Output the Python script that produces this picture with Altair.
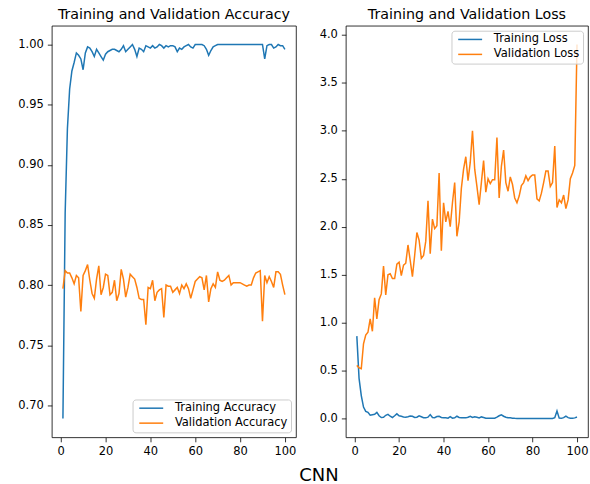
import altair as alt
import pandas as pd

epochs = list(range(1, 101))

train_acc = [
    0.689, 0.860, 0.930, 0.963, 0.978, 0.985, 0.993, 0.991, 0.988, 0.979,
    0.993, 0.998, 0.997, 0.994, 0.990, 0.996, 0.993, 0.990, 0.987, 0.992,
    0.994, 0.995, 0.996, 0.996, 0.995, 0.994, 0.996, 0.999, 0.994, 0.996,
    0.998, 1.000, 0.996, 0.990, 0.997, 0.996, 0.994, 0.999, 0.998, 0.997,
    0.999, 0.997, 0.998, 1.000, 0.999, 0.997, 0.999, 0.998, 0.999, 0.999,
    0.998, 0.994, 0.997, 0.996, 0.998, 0.999, 1.000, 0.998, 0.997, 1.000,
    1.000, 1.000, 1.000, 0.999, 0.996, 0.991, 0.995, 0.998, 0.999, 1.000,
    1.000, 1.000, 1.000, 1.000, 1.000, 1.000, 1.000, 1.000, 1.000, 1.000,
    1.000, 1.000, 1.000, 1.000, 1.000, 1.000, 1.000, 1.000, 1.000, 1.000,
    0.988, 0.999, 1.000, 1.000, 0.997, 0.998, 1.000, 0.999, 0.999, 0.996,
]

val_acc = [
    0.797, 0.812, 0.810, 0.810, 0.806, 0.801, 0.808, 0.806, 0.778, 0.808,
    0.812, 0.817, 0.804, 0.793, 0.789, 0.805, 0.816, 0.792, 0.798, 0.809,
    0.808, 0.792, 0.794, 0.804, 0.787, 0.793, 0.813, 0.805, 0.790, 0.798,
    0.809, 0.807, 0.805, 0.798, 0.789, 0.788, 0.788, 0.767, 0.798, 0.797,
    0.804, 0.787, 0.794, 0.796, 0.797, 0.773, 0.800, 0.799, 0.799, 0.794,
    0.796, 0.798, 0.793, 0.800, 0.797, 0.801, 0.797, 0.789, 0.796, 0.803,
    0.805, 0.807, 0.806, 0.796, 0.808, 0.786, 0.797, 0.801, 0.798, 0.811,
    0.804, 0.803, 0.804, 0.806, 0.808, 0.800, 0.802, 0.802, 0.802, 0.802,
    0.801, 0.800, 0.799, 0.800, 0.800, 0.806, 0.810, 0.811, 0.812, 0.770,
    0.808, 0.802, 0.807, 0.803, 0.798, 0.811, 0.811, 0.809, 0.800, 0.792,
]

train_loss = [
    0.860, 0.420, 0.240, 0.120, 0.075, 0.065, 0.035, 0.040, 0.045, 0.065,
    0.030, 0.012, 0.015, 0.035, 0.045, 0.025, 0.012, 0.030, 0.050, 0.030,
    0.025, 0.018, 0.015, 0.020, 0.028, 0.025, 0.012, 0.015, 0.030, 0.020,
    0.010, 0.008, 0.015, 0.042, 0.012, 0.010, 0.022, 0.025, 0.012, 0.010,
    0.008, 0.005, 0.020, 0.005, 0.008, 0.025, 0.012, 0.010, 0.010, 0.008,
    0.015, 0.025, 0.012, 0.020, 0.015, 0.008, 0.018, 0.012, 0.005, 0.005,
    0.003, 0.003, 0.005, 0.015, 0.030, 0.040, 0.025, 0.015, 0.010, 0.008,
    0.005, 0.003, 0.002, 0.002, 0.002, 0.002, 0.001, 0.001, 0.001, 0.001,
    0.001, 0.001, 0.001, 0.001, 0.001, 0.001, 0.001, 0.001, 0.002, 0.010,
    0.080, 0.005, 0.003, 0.010, 0.025, 0.010, 0.005, 0.003, 0.008, 0.017,
]

val_loss = [
    0.555, 0.530, 0.520, 0.780, 0.870, 0.900, 1.040, 0.910, 1.260, 1.040,
    1.240, 1.300, 1.590, 1.290, 1.500, 1.510, 1.460, 1.460, 1.610, 1.630,
    1.490, 1.600, 1.620, 1.810, 1.650, 1.480, 1.700, 1.940, 1.860, 1.670,
    1.700, 1.850, 2.270, 1.720, 2.080, 1.980, 2.010, 2.560, 1.750, 2.250,
    2.050, 2.160, 2.000, 2.250, 2.460, 1.900, 2.050, 2.400, 2.600, 2.730,
    2.480, 2.670, 3.000, 2.600, 2.420, 2.230, 2.460, 2.690, 2.360, 2.500,
    2.450, 2.490, 2.490, 2.930, 2.300, 2.630, 2.800, 2.460, 2.370, 2.520,
    2.440, 2.300, 2.250, 2.320, 2.430, 2.460, 2.530, 2.480, 2.520, 2.540,
    2.540, 2.290, 2.270, 2.350, 2.460, 2.580, 2.580, 2.420, 2.460, 2.840,
    2.200, 2.280, 2.250, 2.330, 2.190, 2.280, 2.500, 2.560, 2.640, 3.900,
]

acc_names = ["Training Accuracy", "Validation Accuracy"]
loss_names = ["Training Loss", "Validation Loss"]
x_ticks = [0, 20, 40, 60, 80, 100]
acc_ticks = [0.70, 0.75, 0.80, 0.85, 0.90, 0.95, 1.00]
loss_ticks = [0.0, 0.5, 1.0, 1.5, 2.0, 2.5, 3.0, 3.5, 4.0]

acc_df = pd.DataFrame({
    "epoch": epochs + epochs,
    "value": train_acc + val_acc,
    "series": [acc_names[0]] * 100 + [acc_names[1]] * 100,
})
loss_df = pd.DataFrame({
    "epoch": epochs + epochs,
    "value": train_loss + val_loss,
    "series": [loss_names[0]] * 100 + [loss_names[1]] * 100,
})

FONT = "DejaVu Sans"
COLORS = ["#1f77b4", "#ff7f0e"]


def panel(df, title, names, ydomain, yticks, yfmt, lorient, w):
    return alt.Chart(
        df,
        title=alt.TitleParams(title, fontSize=14.3, fontWeight="normal", font=FONT,
                              color="black", offset=3),
    ).mark_line(strokeWidth=1.5).encode(
        x=alt.X("epoch:Q",
                scale=alt.Scale(domain=[-3.95, 104.95], nice=False, zero=False),
                axis=alt.Axis(values=x_ticks, format="d", title=None)),
        y=alt.Y("value:Q",
                scale=alt.Scale(domain=ydomain, nice=False, zero=False),
                axis=alt.Axis(values=yticks, format=yfmt, title=None)),
        color=alt.Color("series:N",
                        scale=alt.Scale(domain=names, range=COLORS),
                        legend=alt.Legend(
                            title=None, orient=lorient, offset=5,
                            fillColor="rgba(255,255,255,0.8)",
                            strokeColor="#cccccc",
                            cornerRadius=3, padding=3,
                            symbolType="M-3,0H3", symbolSize=64,
                            symbolStrokeWidth=1.5, symbolOffset=10,
                            labelFont=FONT, labelFontSize=11.5,
                            labelColor="black", rowPadding=2, labelOffset=18)),
    ).properties(width=w, height=413)


left = panel(acc_df, "Training and Validation Accuracy", acc_names,
             [0.6734, 1.0156], acc_ticks, ".2f", "bottom-right", 245)
right = panel(loss_df, "Training and Validation Loss", loss_names,
              [-0.195, 4.095], loss_ticks, ".1f", "top-right", 243)

chart = alt.hconcat(left, right, spacing=21).resolve_scale(
    color="independent"
).resolve_legend(color="independent").properties(
    title=alt.TitleParams("CNN", orient="bottom", anchor="middle", fontSize=18,
                          fontWeight="normal", font=FONT, color="black",
                          offset=9, dx=16),
    padding={"left": 17, "top": 7, "right": 1, "bottom": 0},
).configure_axis(
    grid=False, domain=False, tickColor="black", tickWidth=0.8, tickSize=4.5,
    labelPadding=4, labelFont=FONT, labelFontSize=11.5, labelColor="black",
).configure_view(stroke="black", strokeWidth=0.8)

chart.save("out.html", embed_options={"renderer": "svg", "actions": False})
